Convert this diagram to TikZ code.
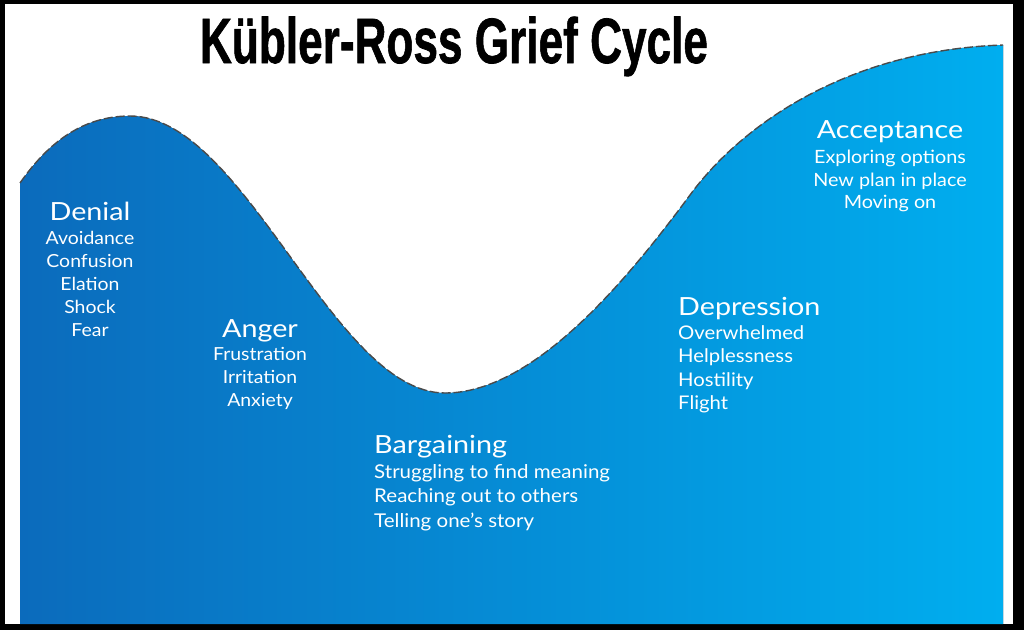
\documentclass[tikz,border=0pt]{standalone}
\usepackage{graphicx}
\usepackage{fontspec}
\setmainfont{Lato}[FakeStretch=1.08]
\newfontfamily\headfont{Lato}[FakeStretch=1.15]
\newfontfamily\titlefont{Liberation Sans}[BoldFeatures={FakeBold=1.2}]
\definecolor{blueL}{HTML}{0B6BBC}
\definecolor{blueR}{HTML}{00AEEF}
\definecolor{dashgray}{HTML}{4A4A4A}
\tikzset{
  stagehead/.style={text=white, inner sep=0pt, font=\headfont\fontsize{25}{28}\selectfont},
  stageitem/.style={text=white, inner sep=0pt, align=center, font=\fontsize{18}{23}\selectfont},
  curveline/.style={draw=dashgray, line width=1.4pt, dash pattern=on 9pt off 3pt}
}
\begin{document}
\begin{tikzpicture}[x=1pt,y=-1pt]
\useasboundingbox (0,0) rectangle (1024,630);
% frame
\fill[black] (0,0) rectangle (1024,630);
\fill[white] (5,4) rectangle (1013,624);
% blue area
\fill[left color=blueL, right color=blueR]
  (20,624) -- (20,183)
  .. controls (50,140) and (85,116) .. (130,116)
  .. controls (245,116) and (333,393) .. (445,393)
  .. controls (530,393) and (620,290) .. (690,195)
  .. controls (743,123) and (850,50) .. (1003,45)
  -- (1003,624) -- cycle;
\draw[curveline] (20,183)
  .. controls (50,140) and (85,116) .. (130,116)
  .. controls (245,116) and (333,393) .. (445,393)
  .. controls (530,393) and (620,290) .. (690,195)
  .. controls (743,123) and (850,50) .. (1003,45);
% title
\node[anchor=base, inner sep=0pt, font=\titlefont\bfseries] (title) at (454,63)
  {\resizebox{508pt}{\height}{\fontsize{64}{64}\selectfont Kübler-Ross Grief Cycle}};
% Denial
\node[stagehead, anchor=base] (denialh) at (90,220) {Denial};
\node[stageitem, anchor=north] (denialt) at (90,231) {Avoidance\\Confusion\\Elation\\Shock\\Fear};
% Anger
\node[stagehead, anchor=base] (angerh) at (260,337) {Anger};
\node[stageitem, anchor=north] (angert) at (260,347) {Frustration\\Irritation\\Anxiety};
% Bargaining
\node[stagehead, anchor=base west] (bargh) at (374,453) {Bargaining};
\node[stageitem, align=left, anchor=north west, font=\fontsize{19}{24.5}\selectfont] (bargt) at (374,464)
  {Struggling to find meaning\\Reaching out to others\\Telling one’s story};
% Depression
\node[stagehead, anchor=base west] (deph) at (678,315) {Depression};
\node[stageitem, align=left, anchor=north west, font=\fontsize{18.8}{23.5}\selectfont] (dept) at (678,325)
  {Overwhelmed\\Helplessness\\Hostility\\Flight};
% Acceptance
\node[stagehead, anchor=base] (acch) at (890,138) {Acceptance};
\node[stageitem, anchor=north, font=\fontsize{18.3}{22.5}\selectfont] (acct) at (890,150)
  {Exploring options\\New plan in place\\Moving on};
\end{tikzpicture}
\end{document}
